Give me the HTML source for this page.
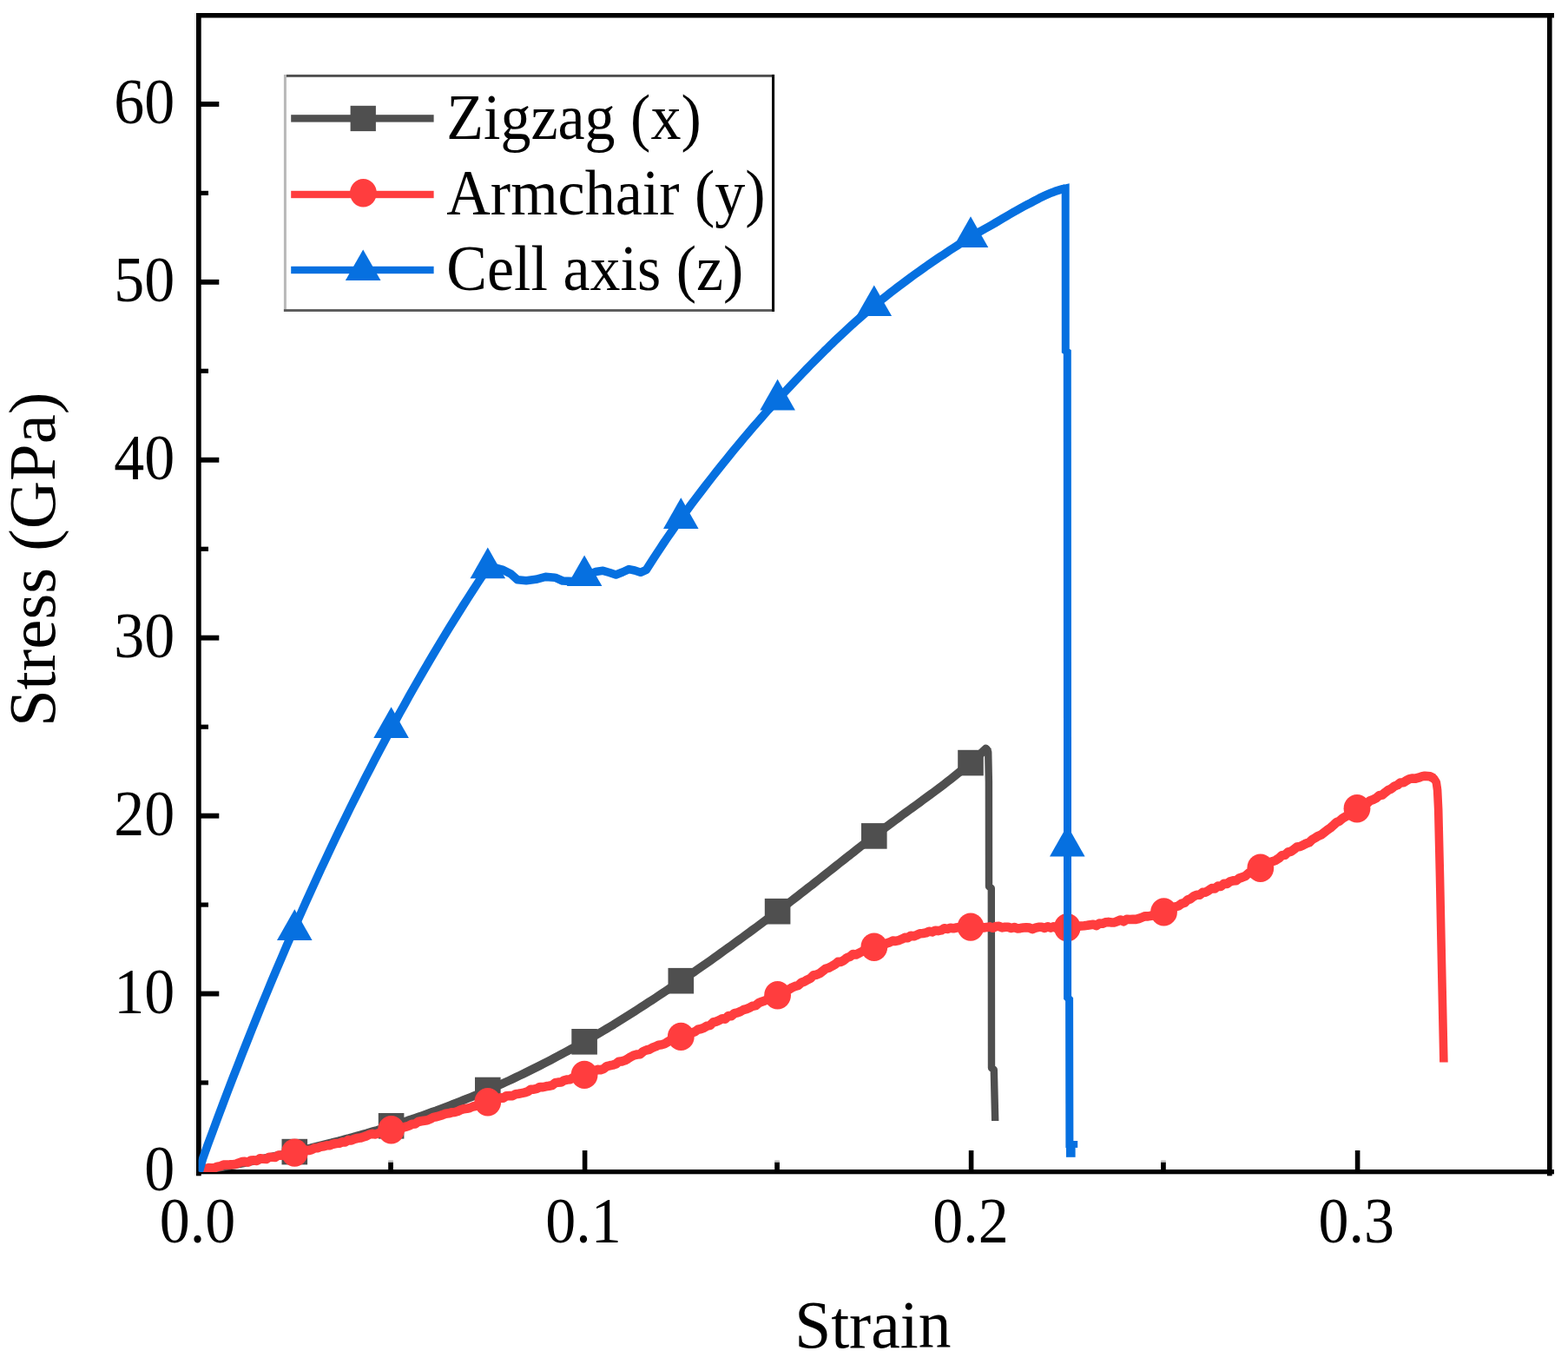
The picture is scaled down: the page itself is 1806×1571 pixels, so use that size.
<!DOCTYPE html>
<html lang="en">
<head>
<meta charset="utf-8">
<title>Stress-strain curves</title>
<style>
html,body{margin:0;padding:0;background:#fff;}
body{width:1806px;height:1571px;overflow:hidden;}
svg{display:block;filter:blur(0.45px);}
text{font-family:'Liberation Serif','DejaVu Serif',serif;fill:#000;}
.tick{font-size:70px;}
.leg{font-size:70px;}
.title{font-size:75.5px;}
.ytitle{font-size:75.5px;}
</style>
</head>
<body>
<svg width="1806" height="1571" viewBox="0 0 1806 1571">
<rect x="0" y="0" width="1806" height="1571" fill="#ffffff"/>
<g id="axes" fill="#000">
<rect x="224.4" y="15" width="1.8" height="1339" fill="#e4e4e4"/>
<rect x="226" y="15" width="1564" height="5.5"/>
<rect x="226" y="1347" width="1564" height="5.3"/>
<rect x="226" y="15" width="5.7" height="1339.3"/>
<rect x="1782" y="15" width="5.6" height="1339.3"/>
<rect x="229" y="1244.4" width="11" height="5.2"/>
<rect x="229" y="1141.6" width="23.3" height="5.9"/>
<rect x="229" y="1039.5" width="11" height="5.2"/>
<rect x="229" y="936.7" width="23.3" height="5.9"/>
<rect x="229" y="834.6" width="11" height="5.2"/>
<rect x="229" y="731.7" width="23.3" height="5.9"/>
<rect x="229" y="629.7" width="11" height="5.2"/>
<rect x="229" y="526.8" width="23.3" height="5.9"/>
<rect x="229" y="424.7" width="11" height="5.2"/>
<rect x="229" y="321.9" width="23.3" height="5.9"/>
<rect x="229" y="219.8" width="11" height="5.2"/>
<rect x="229" y="117.0" width="23.3" height="5.9"/>
<rect x="447.2" y="1338.4" width="5.7" height="11"/>
<rect x="447.2" y="1336.3" width="5.7" height="2.3" fill="#c4c4c4"/>
<rect x="670.8" y="1325" width="5.6" height="24"/>
<rect x="892.2" y="1338.4" width="5.7" height="11"/>
<rect x="892.2" y="1336.3" width="5.7" height="2.3" fill="#c4c4c4"/>
<rect x="1115.8" y="1325" width="5.6" height="24"/>
<rect x="1337.1" y="1338.4" width="5.7" height="11"/>
<rect x="1337.1" y="1336.3" width="5.7" height="2.3" fill="#c4c4c4"/>
<rect x="1560.8" y="1325" width="5.6" height="24"/>
</g>
<clipPath id="plotclip"><rect x="228.6" y="17.5" width="1556.2" height="1332.4"/></clipPath>
<g id="plot" clip-path="url(#plotclip)">
<g id="series-zigzag">
<path d="M229.5,1348.8 L233.5,1348.1 L237.5,1347.4 L241.5,1346.7 L245.5,1346.0 L249.5,1345.3 L253.6,1344.5 L257.6,1343.8 L261.6,1343.0 L265.6,1342.3 L269.6,1341.5 L273.6,1340.7 L277.6,1339.9 L281.6,1339.1 L285.6,1338.3 L289.6,1337.5 L293.6,1336.6 L297.7,1335.8 L301.7,1335.0 L305.7,1334.1 L309.7,1333.2 L313.7,1332.4 L317.7,1331.5 L321.7,1330.6 L325.7,1329.7 L329.7,1328.8 L333.7,1327.9 L337.7,1327.0 L341.7,1326.0 L345.8,1325.1 L349.8,1324.2 L353.8,1323.2 L357.8,1322.3 L361.8,1321.3 L365.8,1320.3 L369.8,1319.3 L373.8,1318.3 L377.8,1317.3 L381.8,1316.3 L385.8,1315.2 L389.9,1314.2 L393.9,1313.1 L397.9,1312.0 L401.9,1311.0 L405.9,1309.9 L409.9,1308.8 L413.9,1307.6 L417.9,1306.5 L421.9,1305.4 L425.9,1304.2 L429.9,1303.0 L434.0,1301.9 L438.0,1300.7 L442.0,1299.4 L446.0,1298.2 L450.0,1297.0 L454.0,1295.7 L458.0,1294.5 L462.0,1293.2 L466.0,1291.9 L470.0,1290.5 L474.0,1289.2 L478.0,1287.8 L482.1,1286.4 L486.1,1285.0 L490.1,1283.6 L494.1,1282.2 L498.1,1280.7 L502.1,1279.3 L506.1,1277.8 L510.1,1276.3 L514.1,1274.8 L518.1,1273.2 L522.1,1271.7 L526.2,1270.1 L530.2,1268.5 L534.2,1266.9 L538.2,1265.3 L542.2,1263.7 L546.2,1262.1 L550.2,1260.4 L554.2,1258.7 L558.2,1257.0 L562.2,1255.3 L566.2,1253.6 L570.3,1251.9 L574.3,1250.1 L578.3,1248.3 L582.3,1246.4 L586.3,1244.6 L590.3,1242.7 L594.3,1240.8 L598.3,1238.9 L602.3,1237.0 L606.3,1235.0 L610.3,1233.0 L614.3,1231.0 L618.4,1229.0 L622.4,1227.0 L626.4,1224.9 L630.4,1222.9 L634.4,1220.8 L638.4,1218.7 L642.4,1216.5 L646.4,1214.4 L650.4,1212.2 L654.4,1210.1 L658.4,1207.9 L662.5,1205.7 L666.5,1203.5 L670.5,1201.2 L674.5,1199.0 L678.5,1196.7 L682.5,1194.5 L686.5,1192.1 L690.5,1189.8 L694.5,1187.4 L698.5,1185.0 L702.5,1182.6 L706.6,1180.2 L710.6,1177.7 L714.6,1175.2 L718.6,1172.7 L722.6,1170.2 L726.6,1167.7 L730.6,1165.1 L734.6,1162.5 L738.6,1159.9 L742.6,1157.3 L746.6,1154.7 L750.7,1152.1 L754.7,1149.5 L758.7,1146.8 L762.7,1144.2 L766.7,1141.5 L770.7,1138.8 L774.7,1136.1 L778.7,1133.5 L782.7,1130.8 L786.7,1128.1 L790.7,1125.4 L794.7,1122.6 L798.8,1119.9 L802.8,1117.1 L806.8,1114.3 L810.8,1111.5 L814.8,1108.7 L818.8,1105.9 L822.8,1103.1 L826.8,1100.2 L830.8,1097.3 L834.8,1094.4 L838.8,1091.6 L842.9,1088.7 L846.9,1085.7 L850.9,1082.8 L854.9,1079.9 L858.9,1076.9 L862.9,1074.0 L866.9,1071.0 L870.9,1068.1 L874.9,1065.1 L878.9,1062.1 L882.9,1059.1 L887.0,1056.1 L891.0,1053.1 L895.0,1050.1 L899.0,1047.1 L903.0,1044.1 L907.0,1041.1 L911.0,1038.0 L915.0,1034.9 L919.0,1031.8 L923.0,1028.7 L927.0,1025.6 L931.0,1022.4 L935.1,1019.3 L939.1,1016.1 L943.1,1013.0 L947.1,1009.8 L951.1,1006.7 L955.1,1003.5 L959.1,1000.3 L963.1,997.1 L967.1,994.0 L971.1,990.8 L975.1,987.6 L979.2,984.5 L983.2,981.3 L987.2,978.2 L991.2,975.0 L995.2,971.9 L999.2,968.8 L1003.2,965.7 L1007.2,962.6 L1011.2,959.5 L1015.2,956.5 L1019.2,953.5 L1023.3,950.5 L1027.3,947.5 L1031.3,944.6 L1035.3,941.7 L1039.3,938.7 L1043.3,935.8 L1047.3,932.9 L1051.3,930.0 L1055.3,927.1 L1059.3,924.2 L1063.3,921.2 L1067.3,918.3 L1071.4,915.3 L1075.4,912.4 L1079.4,909.4 L1083.4,906.3 L1087.4,903.3 L1091.4,900.2 L1095.4,897.1 L1099.4,893.9 L1103.4,890.7 L1107.4,887.4 L1111.4,884.1 L1115.5,880.8 L1119.5,877.4 L1123.5,873.8 L1127.5,870.1 L1131.5,866.3 L1135.5,862.5 L1138.2,866.0" fill="none" stroke="#4f4f4f" stroke-width="9.8" stroke-linejoin="round" stroke-linecap="butt"/>
<path d="M1135.5,862.5 L1138.2,866.0 L1138.9,900.0 L1139.0,1021.0 L1141.8,1023.0 L1142.0,1230.0 L1144.8,1232.0 L1146.2,1291.0" fill="none" stroke="#4f4f4f" stroke-width="8.4" stroke-linejoin="round" stroke-linecap="butt"/>
<rect x="324.5" y="1311.8" width="29.6" height="29.6" fill="#4f4f4f"/>
<rect x="435.8" y="1282.0" width="29.6" height="29.6" fill="#4f4f4f"/>
<rect x="547.0" y="1240.7" width="29.6" height="29.6" fill="#4f4f4f"/>
<rect x="658.3" y="1185.0" width="29.6" height="29.6" fill="#4f4f4f"/>
<rect x="769.5" y="1114.9" width="29.6" height="29.6" fill="#4f4f4f"/>
<rect x="880.8" y="1034.9" width="29.6" height="29.6" fill="#4f4f4f"/>
<rect x="992.0" y="948.1" width="29.6" height="29.6" fill="#4f4f4f"/>
<rect x="1103.2" y="863.8" width="29.6" height="29.6" fill="#4f4f4f"/>
</g>
<g id="series-armchair">
<path d="M233.0,1345.4 L236.5,1346.4 L240.0,1345.1 L243.5,1345.2 L247.0,1345.2 L250.5,1343.7 L254.0,1343.1 L257.5,1341.6 L261.0,1341.5 L264.5,1341.4 L268.0,1341.2 L271.5,1340.9 L275.0,1339.4 L278.5,1338.1 L282.0,1337.9 L285.5,1338.7 L289.0,1336.5 L292.5,1336.4 L296.0,1336.9 L299.5,1334.2 L303.0,1334.8 L306.6,1335.0 L310.1,1332.7 L313.6,1332.8 L317.1,1332.9 L320.6,1330.5 L324.1,1330.7 L327.6,1330.5 L331.1,1329.6 L334.6,1328.5 L338.1,1327.2 L341.6,1327.1 L345.1,1326.1 L348.6,1325.7 L352.1,1324.7 L355.6,1325.0 L359.1,1324.1 L362.6,1322.3 L366.1,1322.1 L369.6,1320.7 L373.1,1320.3 L376.6,1319.2 L380.1,1319.1 L383.6,1317.7 L387.1,1317.0 L390.6,1316.8 L394.1,1315.3 L397.6,1315.5 L401.1,1313.1 L404.6,1313.5 L408.1,1311.9 L411.6,1311.0 L415.1,1310.6 L418.6,1309.5 L422.1,1308.4 L425.6,1306.6 L429.1,1305.9 L432.6,1306.4 L436.1,1305.1 L439.6,1304.6 L443.1,1304.2 L446.7,1302.7 L450.2,1300.4 L453.7,1300.1 L457.2,1299.8 L460.7,1298.0 L464.2,1298.7 L467.7,1297.7 L471.2,1296.5 L474.7,1294.7 L478.2,1294.5 L481.7,1292.0 L485.2,1291.3 L488.7,1290.7 L492.2,1290.3 L495.7,1288.7 L499.2,1286.9 L502.7,1286.3 L506.2,1285.2 L509.7,1284.1 L513.2,1282.8 L516.7,1282.3 L520.2,1281.3 L523.7,1281.0 L527.2,1280.0 L530.7,1278.3 L534.2,1277.2 L537.7,1276.8 L541.2,1276.0 L544.7,1274.5 L548.2,1273.8 L551.7,1273.1 L555.2,1270.1 L558.7,1270.9 L562.2,1268.6 L565.7,1268.0 L569.2,1267.8 L572.7,1266.6 L576.2,1264.4 L579.7,1264.6 L583.2,1262.3 L586.8,1262.0 L590.3,1262.1 L593.8,1260.3 L597.3,1259.8 L600.8,1259.1 L604.3,1258.4 L607.8,1257.3 L611.3,1254.7 L614.8,1254.7 L618.3,1253.9 L621.8,1252.0 L625.3,1252.1 L628.8,1251.3 L632.3,1250.8 L635.8,1250.1 L639.3,1247.3 L642.8,1246.6 L646.3,1246.5 L649.8,1244.3 L653.3,1243.5 L656.8,1243.2 L660.3,1241.2 L663.8,1241.5 L667.3,1240.6 L670.8,1237.6 L674.3,1237.6 L677.8,1237.0 L681.3,1236.2 L684.8,1233.4 L688.3,1231.9 L691.8,1232.2 L695.3,1231.0 L698.8,1228.1 L702.3,1227.3 L705.8,1226.6 L709.3,1225.5 L712.8,1222.7 L716.3,1222.4 L719.8,1221.3 L723.3,1219.3 L726.9,1217.1 L730.4,1215.3 L733.9,1214.5 L737.4,1214.2 L740.9,1211.0 L744.4,1209.5 L747.9,1208.8 L751.4,1206.7 L754.9,1205.4 L758.4,1203.7 L761.9,1203.3 L765.4,1202.2 L768.9,1200.1 L772.4,1198.0 L775.9,1197.0 L779.4,1196.1 L782.9,1195.5 L786.4,1194.1 L789.9,1191.0 L793.4,1189.1 L796.9,1189.4 L800.4,1188.2 L803.9,1185.7 L807.4,1185.0 L810.9,1183.7 L814.4,1181.7 L817.9,1180.8 L821.4,1177.5 L824.9,1176.6 L828.4,1175.1 L831.9,1173.3 L835.4,1173.6 L838.9,1170.1 L842.4,1170.1 L845.9,1167.2 L849.4,1166.4 L852.9,1165.0 L856.4,1163.0 L859.9,1162.2 L863.4,1160.7 L867.0,1158.7 L870.5,1158.0 L874.0,1155.2 L877.5,1153.7 L881.0,1152.5 L884.5,1151.0 L888.0,1149.0 L891.5,1149.0 L895.0,1147.2 L898.5,1144.0 L902.0,1142.9 L905.5,1140.8 L909.0,1139.5 L912.5,1137.3 L916.0,1135.9 L919.5,1134.9 L923.0,1131.8 L926.5,1130.5 L930.0,1128.4 L933.5,1126.7 L937.0,1123.2 L940.5,1122.7 L944.0,1121.2 L947.5,1118.5 L951.0,1115.8 L954.5,1114.7 L958.0,1112.9 L961.5,1110.9 L965.0,1107.9 L968.5,1107.9 L972.0,1106.0 L975.5,1103.1 L979.0,1101.8 L982.5,1099.0 L986.0,1099.5 L989.5,1097.7 L993.0,1095.9 L996.5,1094.8 L1000.0,1092.3 L1003.5,1091.4 L1007.0,1090.2 L1010.6,1089.9 L1014.1,1087.8 L1017.6,1088.5 L1021.1,1086.5 L1024.6,1085.4 L1028.1,1083.6 L1031.6,1083.9 L1035.1,1083.1 L1038.6,1081.7 L1042.1,1079.9 L1045.6,1080.1 L1049.1,1077.7 L1052.6,1078.3 L1056.1,1076.9 L1059.6,1075.3 L1063.1,1075.0 L1066.6,1074.4 L1070.1,1072.8 L1073.6,1073.4 L1077.1,1071.7 L1080.6,1072.1 L1084.1,1071.4 L1087.6,1069.2 L1091.1,1069.9 L1094.6,1068.7 L1098.1,1069.3 L1101.6,1068.5 L1105.1,1068.0 L1108.6,1068.7 L1112.1,1066.7 L1115.6,1067.7 L1119.1,1067.2 L1122.6,1066.6 L1126.1,1068.2 L1129.6,1067.8 L1133.1,1068.5 L1136.6,1067.9 L1140.1,1067.4 L1143.6,1068.8 L1147.1,1067.0 L1150.7,1066.9 L1154.2,1068.4 L1157.7,1067.7 L1161.2,1067.7 L1164.7,1069.0 L1168.2,1068.0 L1171.7,1069.4 L1175.2,1069.1 L1178.7,1068.6 L1182.2,1068.2 L1185.7,1068.6 L1189.2,1070.1 L1192.7,1068.7 L1196.2,1067.8 L1199.7,1067.8 L1203.2,1068.9 L1206.7,1067.3 L1210.2,1068.6 L1213.7,1067.3 L1217.2,1069.2 L1220.7,1068.3 L1224.2,1067.3 L1227.7,1069.2 L1231.2,1068.0 L1234.7,1068.7 L1238.2,1068.0 L1241.7,1066.8 L1245.2,1066.5 L1248.7,1066.2 L1252.2,1065.8 L1255.7,1065.2 L1259.2,1064.7 L1262.7,1066.1 L1266.2,1063.6 L1269.7,1063.8 L1273.2,1062.3 L1276.7,1061.9 L1280.2,1062.5 L1283.7,1062.4 L1287.2,1061.0 L1290.8,1059.5 L1294.3,1061.3 L1297.8,1058.7 L1301.3,1059.0 L1304.8,1058.8 L1308.3,1058.9 L1311.8,1058.0 L1315.3,1056.6 L1318.8,1055.3 L1322.3,1055.4 L1325.8,1054.7 L1329.3,1054.0 L1332.8,1052.9 L1336.3,1050.7 L1339.8,1050.2 L1343.3,1049.5 L1346.8,1048.1 L1350.3,1047.3 L1353.8,1044.3 L1357.3,1043.4 L1360.8,1040.9 L1364.3,1039.8 L1367.8,1036.5 L1371.3,1035.2 L1374.8,1032.4 L1378.3,1030.8 L1381.8,1030.7 L1385.3,1027.8 L1388.8,1027.6 L1392.3,1025.4 L1395.8,1023.0 L1399.3,1023.4 L1402.8,1020.5 L1406.3,1020.9 L1409.8,1017.8 L1413.3,1017.9 L1416.8,1015.4 L1420.3,1014.4 L1423.8,1014.2 L1427.3,1011.6 L1430.9,1010.4 L1434.4,1009.0 L1437.9,1005.9 L1441.4,1005.8 L1444.9,1004.2 L1448.4,1000.8 L1451.9,999.9 L1455.4,997.4 L1458.9,996.6 L1462.4,993.1 L1465.9,992.2 L1469.4,990.8 L1472.9,988.6 L1476.4,985.2 L1479.9,984.8 L1483.4,981.5 L1486.9,980.8 L1490.4,978.2 L1493.9,975.5 L1497.4,975.0 L1500.9,973.4 L1504.4,971.5 L1507.9,970.3 L1511.4,967.0 L1514.9,965.0 L1518.4,962.8 L1521.9,961.4 L1525.4,958.6 L1528.9,955.9 L1532.4,953.5 L1535.9,950.4 L1539.4,947.1 L1542.9,945.6 L1546.4,942.6 L1549.9,940.4 L1553.4,938.9 L1556.9,934.7 L1560.4,933.3 L1563.9,931.0 L1567.4,928.1 L1571.0,926.4 L1574.5,925.5 L1578.0,922.2 L1581.5,921.0 L1585.0,919.3 L1588.5,916.3 L1592.0,915.6 L1595.5,912.7 L1599.0,910.1 L1602.5,908.4 L1606.0,905.6 L1609.5,904.2 L1613.0,901.5 L1616.5,901.3 L1620.0,899.0 L1623.5,897.1 L1627.0,896.5 L1630.5,896.7 L1634.0,895.7 L1637.5,894.4 L1641.0,893.7 L1647.0,894.3 L1651.5,896.5" fill="none" stroke="#ff3d3e" stroke-width="10.6" stroke-linejoin="round" stroke-linecap="butt"/>
<path d="M1641.0,894.0 L1647.0,894.3 L1651.5,896.5 L1654.3,901.0 L1655.6,910.0 L1656.7,932.6 L1658.5,1010.0 L1660.5,1110.0 L1662.9,1223.5" fill="none" stroke="#ff3d3e" stroke-width="9.6" stroke-linejoin="round" stroke-linecap="butt"/>
<ellipse cx="339.3" cy="1327.6" rx="15.4" ry="16.2" fill="#ff3d3e"/>
<ellipse cx="450.6" cy="1301.3" rx="15.4" ry="16.2" fill="#ff3d3e"/>
<ellipse cx="561.8" cy="1269.2" rx="15.4" ry="16.2" fill="#ff3d3e"/>
<ellipse cx="673.1" cy="1237.9" rx="15.4" ry="16.2" fill="#ff3d3e"/>
<ellipse cx="784.3" cy="1193.9" rx="15.4" ry="16.2" fill="#ff3d3e"/>
<ellipse cx="895.6" cy="1146.2" rx="15.4" ry="16.2" fill="#ff3d3e"/>
<ellipse cx="1006.8" cy="1090.8" rx="15.4" ry="16.2" fill="#ff3d3e"/>
<ellipse cx="1118.0" cy="1067.6" rx="15.4" ry="16.2" fill="#ff3d3e"/>
<ellipse cx="1229.3" cy="1068.3" rx="15.4" ry="16.2" fill="#ff3d3e"/>
<ellipse cx="1340.5" cy="1050.4" rx="15.4" ry="16.2" fill="#ff3d3e"/>
<ellipse cx="1451.8" cy="999.8" rx="15.4" ry="16.2" fill="#ff3d3e"/>
<ellipse cx="1563.0" cy="931.3" rx="15.4" ry="16.2" fill="#ff3d3e"/>
</g>
<g id="series-cellaxis">
<path d="M229.3,1349.5 L233.8,1333.8 L239.4,1318.2 L245.1,1302.8 L250.7,1287.6 L256.4,1272.5 L262.0,1257.6 L267.7,1242.8 L273.4,1228.2 L279.0,1213.7 L284.7,1199.4 L290.3,1185.2 L296.0,1171.1 L301.6,1157.2 L307.3,1143.5 L312.9,1129.9 L318.6,1116.4 L324.3,1103.1 L329.9,1089.9 L335.6,1076.8 L341.2,1063.9 L346.9,1051.1 L352.5,1038.5 L358.2,1026.0 L363.9,1013.6 L369.5,1001.3 L375.2,989.2 L380.8,977.2 L386.5,965.3 L392.1,953.6 L397.8,942.0 L403.4,930.5 L409.1,919.1 L414.8,907.9 L420.4,896.7 L426.1,885.7 L431.7,874.8 L437.4,864.0 L443.0,853.4 L448.7,842.8 L454.4,832.4 L460.0,822.0 L465.7,811.8 L471.3,801.7 L477.0,791.7 L482.6,781.8 L488.3,772.0 L494.0,762.3 L499.6,752.8 L505.3,743.3 L510.9,733.9 L516.6,724.6 L522.2,715.4 L527.9,706.4 L533.5,697.4 L539.2,688.5 L544.9,679.7 L550.5,671.0 L556.2,662.3 L561.8,654.6 L571.0,654.2 L579.5,656.5 L588.4,661.0 L596.1,667.8 L606.1,668.7 L617.2,667.3 L628.3,664.4 L639.3,665.2 L648.0,669.0 L660.0,669.6 L673.1,665.0 L686.0,658.5 L694.5,657.3 L702.0,659.5 L709.4,662.0 L717.0,659.0 L724.4,655.6 L731.0,657.0 L737.7,659.3 L744.3,656.3 L748.3,650.1 L752.3,643.9 L756.4,637.7 L760.4,631.6 L764.4,625.5 L768.4,619.6 L772.5,613.7 L776.5,607.9 L780.5,602.2 L784.5,596.7 L788.6,591.2 L792.6,585.8 L796.6,580.4 L800.6,575.1 L804.7,569.8 L808.7,564.5 L812.7,559.3 L816.7,554.1 L820.8,548.9 L824.8,543.8 L828.8,538.7 L832.8,533.7 L836.9,528.7 L840.9,523.7 L844.9,518.8 L848.9,514.0 L853.0,509.1 L857.0,504.3 L861.0,499.6 L865.0,494.9 L869.0,490.2 L873.1,485.6 L877.1,481.0 L881.1,476.4 L885.1,471.9 L889.2,467.5 L893.2,463.1 L897.2,458.7 L901.2,454.3 L905.3,450.0 L909.3,445.7 L913.3,441.4 L917.3,437.2 L921.4,433.0 L925.4,428.8 L929.4,424.6 L933.4,420.5 L937.5,416.4 L941.5,412.3 L945.5,408.3 L949.5,404.3 L953.6,400.4 L957.6,396.4 L961.6,392.6 L965.6,388.7 L969.7,384.9 L973.7,381.2 L977.7,377.5 L981.7,373.8 L985.8,370.2 L989.8,366.7 L993.8,363.2 L997.8,359.7 L1001.8,356.3 L1005.9,353.0 L1009.9,349.7 L1013.9,346.4 L1017.9,343.2 L1022.0,340.0 L1026.0,336.8 L1030.0,333.7 L1034.0,330.6 L1038.1,327.6 L1042.1,324.6 L1046.1,321.6 L1050.1,318.6 L1054.2,315.7 L1058.2,312.8 L1062.2,310.0 L1066.2,307.1 L1070.3,304.3 L1074.3,301.6 L1078.3,298.8 L1082.3,296.1 L1086.4,293.4 L1090.4,290.7 L1094.4,288.1 L1098.4,285.5 L1102.5,282.9 L1106.5,280.3 L1110.5,277.7 L1114.5,275.2 L1118.5,272.7 L1122.6,270.3 L1126.6,267.9 L1130.6,265.6 L1134.6,263.4 L1138.7,261.1 L1142.7,258.8 L1146.7,256.5 L1150.7,254.1 L1154.8,251.7 L1158.8,249.4 L1162.8,247.0 L1166.8,244.7 L1170.9,242.4 L1174.9,240.1 L1178.9,237.9 L1182.9,235.8 L1187.0,233.7 L1191.0,231.5 L1195.0,229.4 L1199.0,227.3 L1203.1,225.4 L1207.1,223.6 L1211.1,221.9 L1215.1,220.4 L1219.2,219.1 L1223.2,217.9 L1227.2,216.9" fill="none" stroke="#0670e0" stroke-width="9.6" stroke-linejoin="round" stroke-linecap="butt"/>
<path d="M1223.2,217.9 L1227.2,216.9 L1227.3,404.0 L1229.3,405.5 L1229.6,1149.0 L1231.6,1151.0 L1231.9,1322.0" fill="none" stroke="#0670e0" stroke-width="9" stroke-linejoin="miter" stroke-linecap="butt"/>
<rect x="1235" y="1314" width="6.2" height="7.9" fill="#0670e0"/>
<rect x="1228" y="1320" width="10.6" height="12.8" fill="#0670e0"/>
<path d="M339.3,1047.3 L359.6,1082.9 L319.0,1082.9 Z" fill="#0670e0"/>
<path d="M450.6,814.3 L470.9,849.9 L430.3,849.9 Z" fill="#0670e0"/>
<path d="M561.8,630.6 L582.1,666.2 L541.5,666.2 Z" fill="#0670e0"/>
<path d="M673.1,639.5 L693.4,675.1 L652.8,675.1 Z" fill="#0670e0"/>
<path d="M784.3,573.3 L804.6,608.9 L764.0,608.9 Z" fill="#0670e0"/>
<path d="M895.6,436.8 L915.9,472.4 L875.3,472.4 Z" fill="#0670e0"/>
<path d="M1006.8,328.5 L1027.1,364.1 L986.5,364.1 Z" fill="#0670e0"/>
<path d="M1118.0,249.3 L1138.3,284.9 L1097.7,284.9 Z" fill="#0670e0"/>
<path d="M1229.3,950.8 L1249.6,986.4 L1209.0,986.4 Z" fill="#0670e0"/>
</g>
</g>
<g id="ticklabels">
<text class="tick" transform="translate(201.3,1370.9) scale(1.0,1.045)" text-anchor="end">0</text>
<text class="tick" transform="translate(201.3,1166.9) scale(1.0,1.045)" text-anchor="end">10</text>
<text class="tick" transform="translate(201.3,962.0) scale(1.0,1.045)" text-anchor="end">20</text>
<text class="tick" transform="translate(201.3,757.0) scale(1.0,1.045)" text-anchor="end">30</text>
<text class="tick" transform="translate(201.3,552.1) scale(1.0,1.045)" text-anchor="end">40</text>
<text class="tick" transform="translate(201.3,347.2) scale(1.0,1.045)" text-anchor="end">50</text>
<text class="tick" transform="translate(201.3,142.3) scale(1.0,1.045)" text-anchor="end">60</text>
<text class="tick" transform="translate(227.6,1431) scale(1.0,1.045)" text-anchor="middle">0.0</text>
<text class="tick" transform="translate(672.0,1431) scale(1.0,1.045)" text-anchor="middle">0.1</text>
<text class="tick" transform="translate(1117.9,1431) scale(1.0,1.045)" text-anchor="middle">0.2</text>
<text class="tick" transform="translate(1562.2,1431) scale(1.0,1.045)" text-anchor="middle">0.3</text>
</g>
<g id="titles">
<text class="title" transform="translate(1005.3,1552.2) scale(1.0,1.045)" text-anchor="middle">Strain</text>
<text class="ytitle" transform="translate(62.8,644.4) rotate(-90) scale(1.0154,1.0)" text-anchor="middle">Stress (GPa)</text>
</g>
<g id="legend">
<rect x="328" y="87" width="562" height="270" fill="#fff"/>
<rect x="326.9" y="85.9" width="3.0" height="273" fill="#b8b8b8"/>
<rect x="329.9" y="85.9" width="562.1" height="2.9" fill="#4d4d4d"/>
<rect x="326.9" y="356.1" width="565" height="2.85" fill="#595959"/>
<rect x="889" y="85.9" width="3.1" height="273.05" fill="#0a0a0a"/>
<rect x="335.2" y="132.2" width="164.4" height="8.4" fill="#4f4f4f"/>
<rect x="403.6" y="121.8" width="29.3" height="29.3" fill="#4f4f4f"/>
<text class="leg" transform="translate(514.3,159.6) scale(1.0,1.045)" text-anchor="start">Zigzag (x)</text>
<rect x="335.2" y="219.8" width="164.4" height="8.4" fill="#ff3d3e"/>
<ellipse cx="418.4" cy="222.3" rx="15.4" ry="16.2" fill="#ff3d3e"/>
<text class="leg" transform="translate(514.3,246.8) scale(1.0,1.045)" text-anchor="start">Armchair (y)</text>
<rect x="335.2" y="306.8" width="164.4" height="8.4" fill="#0670e0"/>
<path d="M418.2,287.4 L438.5,323.0 L397.9,323.0 Z" fill="#0670e0"/>
<text class="leg" transform="translate(514.3,334.0) scale(1.0,1.045)" text-anchor="start">Cell axis (z)</text>
</g>
</svg>
</body>
</html>
